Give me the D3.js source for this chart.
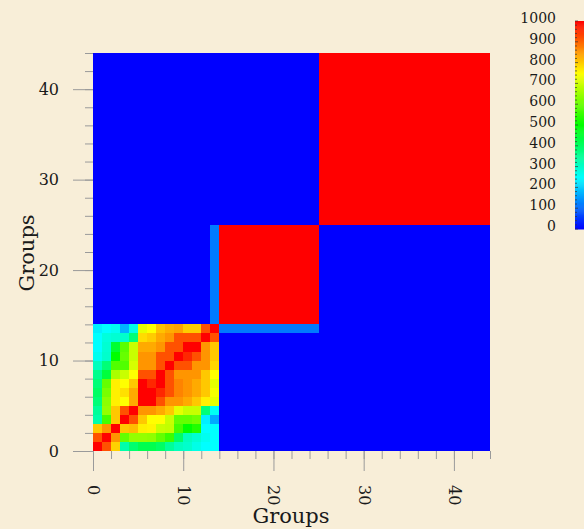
<!DOCTYPE html>
<html>
<head>
<meta charset="utf-8">
<script src="https://cdn.jsdelivr.net/npm/d3@7"></script>
<style>
  body { margin: 0; background: #f8eed8; }
  text { font-family: "DejaVu Serif", serif; fill: #1a1a1a; }
</style>
</head>
<body>
<div id="chart"></div>
<script>
// group index 0..43 on both axes
var groups = d3.range(44);

// first cluster (groups 0-13), row = y group (bottom up), column = x group
var clusterA = [
  [1000, 921, 795, 333, 392, 422, 422, 402, 350, 314, 300, 274, 250, 250],
  [ 921,1000, 854, 598, 645, 645, 640, 598, 558, 402, 314, 294, 265, 250],
  [ 804, 854,1000, 804, 814, 765, 760, 696, 690, 568, 500, 530, 250, 250],
  [ 333, 568, 804,1000, 921, 804, 750, 750, 696, 598, 598, 612, 235, 167],
  [ 350, 645, 804, 921,1000, 854, 854, 833, 804, 725, 696, 696, 383, 260],
  [ 383, 637, 765, 750, 833,1000,1000, 921, 854, 854, 833, 804, 765, 725],
  [ 402, 618, 765, 780, 833,1000,1000, 962, 921, 872, 854, 833, 804, 740],
  [ 383, 598, 765, 750, 804,1000, 962,1000, 921, 872, 854, 833, 804, 725],
  [ 363, 441, 667, 696, 750, 921, 921,1000, 921, 854, 854, 854, 804, 750],
  [ 314, 383, 579, 579, 710, 854, 854, 921,1000, 921, 921, 854, 854, 790],
  [ 265, 300, 500, 600, 696, 854, 854, 921, 921,1000, 962, 921, 854, 804],
  [ 250, 294, 451, 588, 696, 833, 833, 854, 921, 921,1000,1000, 854, 804],
  [ 250, 284, 294, 300, 383, 784, 800, 833, 854, 921, 921, 921,1000, 921],
  [ 235, 250, 265, 177, 274, 725, 750, 810, 830, 840, 800, 800, 921,1000]
];

// uniform blocks: [rowFrom, rowTo, colFrom, colTo, value]
var uniformBlocks = [
  [14, 24, 14, 24, 1000],
  [25, 43, 25, 43, 1000],
  [14, 24, 13, 13, 120],
  [13, 13, 14, 24, 120]
];

var axisTicks = [0, 10, 20, 30, 40];
var minorTicks = d3.range(0, 45, 2);
var legendTicks = [0, 100, 200, 300, 400, 500, 600, 700, 800, 900, 1000];

var cells = [];
groups.forEach(function(r) {
  groups.forEach(function(c) {
    var v = (r < 14 && c < 14) ? clusterA[r][c] : 0;
    uniformBlocks.forEach(function(b) {
      if (r >= b[0] && r <= b[1] && c >= b[2] && c <= b[3]) v = b[4];
    });
    cells.push({row: r, col: c, value: v});
  });
});

function colorOf(v) {
  return d3.hsl(240 * (1 - v / 1000), 1, 0.5).toString();
}

var svg = d3.select("#chart").append("svg").attr("width", 584).attr("height", 529);
svg.append("rect").attr("width", 584).attr("height", 529).attr("fill", "#f8eed8");

var xScale = d3.scaleLinear().domain([0, 44]).range([93, 490]);
var yScale = d3.scaleLinear().domain([0, 44]).range([451, 53]);

svg.append("g").selectAll("rect").data(cells).enter().append("rect")
  .attr("x", function(d) { return xScale(d.col); })
  .attr("y", function(d) { return yScale(d.row + 1); })
  .attr("width", function(d) { return xScale(d.col + 1) - xScale(d.col); })
  .attr("height", function(d) { return yScale(d.row) - yScale(d.row + 1); })
  .attr("fill", function(d) { return colorOf(d.value); })
  .attr("shape-rendering", "crispEdges");

// axes, R style: minor ticks every 2, long ticks with labels every 10
function styleAxis(g) {
  g.select(".domain").remove();
  g.selectAll("line").attr("stroke", "#9a9a9a");
}
svg.append("g").attr("transform", "translate(0,451)")
  .call(d3.axisBottom(xScale).tickValues(minorTicks).tickSize(8).tickFormat(""))
  .call(styleAxis);
var xg = svg.append("g").attr("transform", "translate(0,451)")
  .call(d3.axisBottom(xScale).tickValues(axisTicks).tickSize(20))
  .call(styleAxis);
xg.selectAll("text")
  .attr("font-size", 16).attr("fill", "#1a1a1a")
  .attr("transform", "rotate(90)")
  .attr("x", 34).attr("y", 0).attr("dy", "0.35em")
  .attr("text-anchor", "start");

svg.append("g").attr("transform", "translate(93,0)")
  .call(d3.axisLeft(yScale).tickValues(minorTicks).tickSize(8).tickFormat(""))
  .call(styleAxis);
var yg = svg.append("g").attr("transform", "translate(93,0)")
  .call(d3.axisLeft(yScale).tickValues(axisTicks).tickSize(20))
  .call(styleAxis);
yg.selectAll("text").attr("font-size", 16).attr("fill", "#1a1a1a").attr("x", -34);

svg.append("text").attr("x", 291).attr("y", 523).attr("text-anchor", "middle")
  .attr("font-size", 21).text("Groups");
svg.append("text").attr("transform", "translate(34,253) rotate(-90)").attr("text-anchor", "middle")
  .attr("font-size", 21).text("Groups");

// colour key
var kScale = d3.scaleLinear().domain([0, 1000]).range([229, 21]);
var steps = d3.range(0, 1000, 5);
svg.append("g").selectAll("rect").data(steps).enter().append("rect")
  .attr("x", 575).attr("width", 9)
  .attr("y", function(d) { return kScale(d + 5); })
  .attr("height", function(d) { return kScale(d) - kScale(d + 5) + 0.5; })
  .attr("fill", function(d) { return colorOf(d + 2.5); });
svg.append("g").selectAll("line").data(d3.range(0, 1001, 20)).enter().append("line")
  .attr("x1", 575).attr("x2", function(d) { return d % 100 === 0 ? 578 : 577; })
  .attr("y1", function(d) { return kScale(d); }).attr("y2", function(d) { return kScale(d); })
  .attr("stroke", "#333").attr("stroke-opacity", 0.7);
svg.append("g").selectAll("text").data(legendTicks).enter().append("text")
  .attr("x", 556).attr("y", function(d) { return kScale(d) - 3; })
  .attr("dy", "0.35em").attr("text-anchor", "end").attr("font-size", 14)
  .text(function(d) { return d; });
</script>
</body>
</html>
